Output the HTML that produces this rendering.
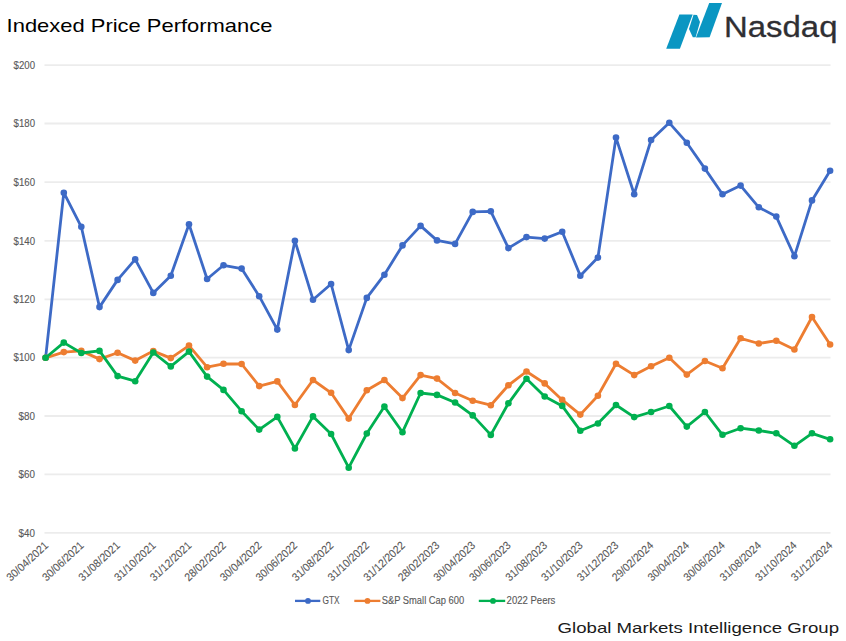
<!DOCTYPE html>
<html><head><meta charset="utf-8"><style>
html,body{margin:0;padding:0;background:#fff;}
body{width:846px;height:641px;overflow:hidden;position:relative;font-family:"Liberation Sans",sans-serif;}
svg{position:absolute;left:0;top:0;}
</style></head><body>
<svg width="846" height="641" viewBox="0 0 846 641">
<rect width="846" height="641" fill="#fff"/>
<text x="6.6" y="32.1" font-size="19" fill="#000" textLength="265.8" lengthAdjust="spacingAndGlyphs">Indexed Price Performance</text>
<g fill="#0A96C2">
<polygon points="666.2,48.8 679.4,14.5 692.7,14.5 679.9,48.8"/>
<polygon points="693.5,14.8 697,15 700,22 695.6,37.3 692.8,37.3 689,29"/>
<polygon points="709.2,2.9 722,2.9 709.6,37.2 696,37.6"/>
</g>
<text x="724" y="37" font-size="29.6" fill="#2F2F33" stroke="#2F2F33" stroke-width="0.3" textLength="113.5" lengthAdjust="spacingAndGlyphs">Nasdaq</text>
<line x1="44.5" y1="65.1" x2="830.5" y2="65.1" stroke="#ECECEC" stroke-width="1.8"/>
<line x1="44.5" y1="123.5" x2="830.5" y2="123.5" stroke="#ECECEC" stroke-width="1.8"/>
<line x1="44.5" y1="182.1" x2="830.5" y2="182.1" stroke="#ECECEC" stroke-width="1.8"/>
<line x1="44.5" y1="240.9" x2="830.5" y2="240.9" stroke="#ECECEC" stroke-width="1.8"/>
<line x1="44.5" y1="299.3" x2="830.5" y2="299.3" stroke="#ECECEC" stroke-width="1.8"/>
<line x1="44.5" y1="357.6" x2="830.5" y2="357.6" stroke="#ECECEC" stroke-width="1.8"/>
<line x1="44.5" y1="416.0" x2="830.5" y2="416.0" stroke="#ECECEC" stroke-width="1.8"/>
<line x1="44.5" y1="474.3" x2="830.5" y2="474.3" stroke="#ECECEC" stroke-width="1.8"/>
<line x1="44.5" y1="532.9" x2="830.5" y2="532.9" stroke="#ECECEC" stroke-width="1.8"/>

<g font-size="10.2" fill="#595959" stroke="#595959" stroke-width="0.12">
<text x="35" y="68.7" text-anchor="end" textLength="21.4" lengthAdjust="spacingAndGlyphs">$200</text>
<text x="35" y="127.1" text-anchor="end" textLength="21.4" lengthAdjust="spacingAndGlyphs">$180</text>
<text x="35" y="185.7" text-anchor="end" textLength="21.4" lengthAdjust="spacingAndGlyphs">$160</text>
<text x="35" y="244.5" text-anchor="end" textLength="21.4" lengthAdjust="spacingAndGlyphs">$140</text>
<text x="35" y="302.9" text-anchor="end" textLength="21.4" lengthAdjust="spacingAndGlyphs">$120</text>
<text x="35" y="361.2" text-anchor="end" textLength="21.4" lengthAdjust="spacingAndGlyphs">$100</text>
<text x="35" y="419.6" text-anchor="end" textLength="16.4" lengthAdjust="spacingAndGlyphs">$80</text>
<text x="35" y="477.9" text-anchor="end" textLength="16.4" lengthAdjust="spacingAndGlyphs">$60</text>
<text x="35" y="536.5" text-anchor="end" textLength="16.4" lengthAdjust="spacingAndGlyphs">$40</text>

</g>
<g font-size="11.2" fill="#595959" stroke="#595959" stroke-width="0.1">
<text transform="translate(48.9,546.3) rotate(-43)" text-anchor="end" textLength="52" lengthAdjust="spacingAndGlyphs">30/04/2021</text>
<text transform="translate(84.5,546.3) rotate(-43)" text-anchor="end" textLength="52" lengthAdjust="spacingAndGlyphs">30/06/2021</text>
<text transform="translate(120.8,546.3) rotate(-43)" text-anchor="end" textLength="52" lengthAdjust="spacingAndGlyphs">31/08/2021</text>
<text transform="translate(156.5,546.3) rotate(-43)" text-anchor="end" textLength="52" lengthAdjust="spacingAndGlyphs">31/10/2021</text>
<text transform="translate(192.2,546.3) rotate(-43)" text-anchor="end" textLength="52" lengthAdjust="spacingAndGlyphs">31/12/2021</text>
<text transform="translate(226.7,546.3) rotate(-43)" text-anchor="end" textLength="52" lengthAdjust="spacingAndGlyphs">28/02/2022</text>
<text transform="translate(262.4,546.3) rotate(-43)" text-anchor="end" textLength="52" lengthAdjust="spacingAndGlyphs">30/04/2022</text>
<text transform="translate(298.1,546.3) rotate(-43)" text-anchor="end" textLength="52" lengthAdjust="spacingAndGlyphs">30/06/2022</text>
<text transform="translate(334.3,546.3) rotate(-43)" text-anchor="end" textLength="52" lengthAdjust="spacingAndGlyphs">31/08/2022</text>
<text transform="translate(370.0,546.3) rotate(-43)" text-anchor="end" textLength="52" lengthAdjust="spacingAndGlyphs">31/10/2022</text>
<text transform="translate(405.7,546.3) rotate(-43)" text-anchor="end" textLength="52" lengthAdjust="spacingAndGlyphs">31/12/2022</text>
<text transform="translate(440.2,546.3) rotate(-43)" text-anchor="end" textLength="52" lengthAdjust="spacingAndGlyphs">28/02/2023</text>
<text transform="translate(475.9,546.3) rotate(-43)" text-anchor="end" textLength="52" lengthAdjust="spacingAndGlyphs">30/04/2023</text>
<text transform="translate(511.6,546.3) rotate(-43)" text-anchor="end" textLength="52" lengthAdjust="spacingAndGlyphs">30/06/2023</text>
<text transform="translate(547.9,546.3) rotate(-43)" text-anchor="end" textLength="52" lengthAdjust="spacingAndGlyphs">31/08/2023</text>
<text transform="translate(583.5,546.3) rotate(-43)" text-anchor="end" textLength="52" lengthAdjust="spacingAndGlyphs">31/10/2023</text>
<text transform="translate(619.2,546.3) rotate(-43)" text-anchor="end" textLength="52" lengthAdjust="spacingAndGlyphs">31/12/2023</text>
<text transform="translate(654.3,546.3) rotate(-43)" text-anchor="end" textLength="52" lengthAdjust="spacingAndGlyphs">29/02/2024</text>
<text transform="translate(690.0,546.3) rotate(-43)" text-anchor="end" textLength="52" lengthAdjust="spacingAndGlyphs">30/04/2024</text>
<text transform="translate(725.7,546.3) rotate(-43)" text-anchor="end" textLength="52" lengthAdjust="spacingAndGlyphs">30/06/2024</text>
<text transform="translate(762.0,546.3) rotate(-43)" text-anchor="end" textLength="52" lengthAdjust="spacingAndGlyphs">31/08/2024</text>
<text transform="translate(797.6,546.3) rotate(-43)" text-anchor="end" textLength="52" lengthAdjust="spacingAndGlyphs">31/10/2024</text>
<text transform="translate(833.3,546.3) rotate(-43)" text-anchor="end" textLength="52" lengthAdjust="spacingAndGlyphs">31/12/2024</text>

</g>
<polyline points="45.6,357.8 63.8,192.7 81.3,226.8 99.5,307.1 117.6,279.9 135.2,259.4 153.3,292.9 170.8,275.7 189.0,224.2 207.1,279.0 223.5,265.3 241.6,268.6 259.2,296.2 277.3,329.6 294.9,240.7 313.0,299.7 331.1,284.0 348.7,350.1 366.8,297.9 384.4,274.7 402.5,245.4 420.6,225.9 437.0,240.4 455.1,243.9 472.7,211.9 490.8,211.3 508.4,248.1 526.5,237.1 544.7,238.6 562.2,231.7 580.3,275.7 597.9,257.6 616.0,137.6 634.2,194.2 651.1,140.0 669.3,122.8 686.8,142.7 704.9,168.6 722.5,194.2 740.6,185.6 758.8,207.3 776.3,216.6 794.4,256.3 812.0,200.4 830.1,170.8" fill="none" stroke="#3D6AC6" stroke-width="2.8" stroke-linejoin="round" stroke-linecap="round"/>
<g fill="#3D6AC6"><circle cx="45.6" cy="357.8" r="3.3"/><circle cx="63.8" cy="192.7" r="3.3"/><circle cx="81.3" cy="226.8" r="3.3"/><circle cx="99.5" cy="307.1" r="3.3"/><circle cx="117.6" cy="279.9" r="3.3"/><circle cx="135.2" cy="259.4" r="3.3"/><circle cx="153.3" cy="292.9" r="3.3"/><circle cx="170.8" cy="275.7" r="3.3"/><circle cx="189.0" cy="224.2" r="3.3"/><circle cx="207.1" cy="279.0" r="3.3"/><circle cx="223.5" cy="265.3" r="3.3"/><circle cx="241.6" cy="268.6" r="3.3"/><circle cx="259.2" cy="296.2" r="3.3"/><circle cx="277.3" cy="329.6" r="3.3"/><circle cx="294.9" cy="240.7" r="3.3"/><circle cx="313.0" cy="299.7" r="3.3"/><circle cx="331.1" cy="284.0" r="3.3"/><circle cx="348.7" cy="350.1" r="3.3"/><circle cx="366.8" cy="297.9" r="3.3"/><circle cx="384.4" cy="274.7" r="3.3"/><circle cx="402.5" cy="245.4" r="3.3"/><circle cx="420.6" cy="225.9" r="3.3"/><circle cx="437.0" cy="240.4" r="3.3"/><circle cx="455.1" cy="243.9" r="3.3"/><circle cx="472.7" cy="211.9" r="3.3"/><circle cx="490.8" cy="211.3" r="3.3"/><circle cx="508.4" cy="248.1" r="3.3"/><circle cx="526.5" cy="237.1" r="3.3"/><circle cx="544.7" cy="238.6" r="3.3"/><circle cx="562.2" cy="231.7" r="3.3"/><circle cx="580.3" cy="275.7" r="3.3"/><circle cx="597.9" cy="257.6" r="3.3"/><circle cx="616.0" cy="137.6" r="3.3"/><circle cx="634.2" cy="194.2" r="3.3"/><circle cx="651.1" cy="140.0" r="3.3"/><circle cx="669.3" cy="122.8" r="3.3"/><circle cx="686.8" cy="142.7" r="3.3"/><circle cx="704.9" cy="168.6" r="3.3"/><circle cx="722.5" cy="194.2" r="3.3"/><circle cx="740.6" cy="185.6" r="3.3"/><circle cx="758.8" cy="207.3" r="3.3"/><circle cx="776.3" cy="216.6" r="3.3"/><circle cx="794.4" cy="256.3" r="3.3"/><circle cx="812.0" cy="200.4" r="3.3"/><circle cx="830.1" cy="170.8" r="3.3"/></g>

<polyline points="45.6,357.8 63.8,352.1 81.3,350.9 99.5,359.1 117.6,352.8 135.2,360.6 153.3,351.1 170.8,358.1 189.0,345.6 207.1,367.2 223.5,363.8 241.6,364.0 259.2,386.1 277.3,381.4 294.9,405.0 313.0,380.0 331.1,392.8 348.7,418.6 366.8,390.2 384.4,380.0 402.5,398.1 420.6,375.1 437.0,378.6 455.1,393.0 472.7,400.7 490.8,405.2 508.4,385.3 526.5,371.5 544.7,383.4 562.2,399.9 580.3,414.6 597.9,395.7 616.0,363.8 634.2,375.1 651.1,366.3 669.3,357.7 686.8,374.6 704.9,361.0 722.5,368.3 740.6,338.3 758.8,343.5 776.3,340.7 794.4,349.5 812.0,317.0 830.1,344.5" fill="none" stroke="#ED7D31" stroke-width="2.8" stroke-linejoin="round" stroke-linecap="round"/>
<g fill="#ED7D31"><circle cx="45.6" cy="357.8" r="3.3"/><circle cx="63.8" cy="352.1" r="3.3"/><circle cx="81.3" cy="350.9" r="3.3"/><circle cx="99.5" cy="359.1" r="3.3"/><circle cx="117.6" cy="352.8" r="3.3"/><circle cx="135.2" cy="360.6" r="3.3"/><circle cx="153.3" cy="351.1" r="3.3"/><circle cx="170.8" cy="358.1" r="3.3"/><circle cx="189.0" cy="345.6" r="3.3"/><circle cx="207.1" cy="367.2" r="3.3"/><circle cx="223.5" cy="363.8" r="3.3"/><circle cx="241.6" cy="364.0" r="3.3"/><circle cx="259.2" cy="386.1" r="3.3"/><circle cx="277.3" cy="381.4" r="3.3"/><circle cx="294.9" cy="405.0" r="3.3"/><circle cx="313.0" cy="380.0" r="3.3"/><circle cx="331.1" cy="392.8" r="3.3"/><circle cx="348.7" cy="418.6" r="3.3"/><circle cx="366.8" cy="390.2" r="3.3"/><circle cx="384.4" cy="380.0" r="3.3"/><circle cx="402.5" cy="398.1" r="3.3"/><circle cx="420.6" cy="375.1" r="3.3"/><circle cx="437.0" cy="378.6" r="3.3"/><circle cx="455.1" cy="393.0" r="3.3"/><circle cx="472.7" cy="400.7" r="3.3"/><circle cx="490.8" cy="405.2" r="3.3"/><circle cx="508.4" cy="385.3" r="3.3"/><circle cx="526.5" cy="371.5" r="3.3"/><circle cx="544.7" cy="383.4" r="3.3"/><circle cx="562.2" cy="399.9" r="3.3"/><circle cx="580.3" cy="414.6" r="3.3"/><circle cx="597.9" cy="395.7" r="3.3"/><circle cx="616.0" cy="363.8" r="3.3"/><circle cx="634.2" cy="375.1" r="3.3"/><circle cx="651.1" cy="366.3" r="3.3"/><circle cx="669.3" cy="357.7" r="3.3"/><circle cx="686.8" cy="374.6" r="3.3"/><circle cx="704.9" cy="361.0" r="3.3"/><circle cx="722.5" cy="368.3" r="3.3"/><circle cx="740.6" cy="338.3" r="3.3"/><circle cx="758.8" cy="343.5" r="3.3"/><circle cx="776.3" cy="340.7" r="3.3"/><circle cx="794.4" cy="349.5" r="3.3"/><circle cx="812.0" cy="317.0" r="3.3"/><circle cx="830.1" cy="344.5" r="3.3"/></g>

<polyline points="45.6,357.8 63.8,342.6 81.3,353.0 99.5,350.9 117.6,376.1 135.2,381.2 153.3,352.5 170.8,366.4 189.0,351.6 207.1,376.6 223.5,389.9 241.6,411.2 259.2,429.6 277.3,416.9 294.9,448.5 313.0,416.4 331.1,434.0 348.7,467.7 366.8,433.5 384.4,406.6 402.5,432.2 420.6,393.0 437.0,394.9 455.1,402.5 472.7,415.4 490.8,434.9 508.4,403.3 526.5,378.7 544.7,396.5 562.2,405.9 580.3,430.7 597.9,423.5 616.0,405.0 634.2,417.1 651.1,412.0 669.3,406.0 686.8,426.6 704.9,412.0 722.5,434.8 740.6,428.2 758.8,430.5 776.3,433.3 794.4,445.8 812.0,433.3 830.1,439.3" fill="none" stroke="#00B050" stroke-width="2.8" stroke-linejoin="round" stroke-linecap="round"/>
<g fill="#00B050"><circle cx="45.6" cy="357.8" r="3.3"/><circle cx="63.8" cy="342.6" r="3.3"/><circle cx="81.3" cy="353.0" r="3.3"/><circle cx="99.5" cy="350.9" r="3.3"/><circle cx="117.6" cy="376.1" r="3.3"/><circle cx="135.2" cy="381.2" r="3.3"/><circle cx="153.3" cy="352.5" r="3.3"/><circle cx="170.8" cy="366.4" r="3.3"/><circle cx="189.0" cy="351.6" r="3.3"/><circle cx="207.1" cy="376.6" r="3.3"/><circle cx="223.5" cy="389.9" r="3.3"/><circle cx="241.6" cy="411.2" r="3.3"/><circle cx="259.2" cy="429.6" r="3.3"/><circle cx="277.3" cy="416.9" r="3.3"/><circle cx="294.9" cy="448.5" r="3.3"/><circle cx="313.0" cy="416.4" r="3.3"/><circle cx="331.1" cy="434.0" r="3.3"/><circle cx="348.7" cy="467.7" r="3.3"/><circle cx="366.8" cy="433.5" r="3.3"/><circle cx="384.4" cy="406.6" r="3.3"/><circle cx="402.5" cy="432.2" r="3.3"/><circle cx="420.6" cy="393.0" r="3.3"/><circle cx="437.0" cy="394.9" r="3.3"/><circle cx="455.1" cy="402.5" r="3.3"/><circle cx="472.7" cy="415.4" r="3.3"/><circle cx="490.8" cy="434.9" r="3.3"/><circle cx="508.4" cy="403.3" r="3.3"/><circle cx="526.5" cy="378.7" r="3.3"/><circle cx="544.7" cy="396.5" r="3.3"/><circle cx="562.2" cy="405.9" r="3.3"/><circle cx="580.3" cy="430.7" r="3.3"/><circle cx="597.9" cy="423.5" r="3.3"/><circle cx="616.0" cy="405.0" r="3.3"/><circle cx="634.2" cy="417.1" r="3.3"/><circle cx="651.1" cy="412.0" r="3.3"/><circle cx="669.3" cy="406.0" r="3.3"/><circle cx="686.8" cy="426.6" r="3.3"/><circle cx="704.9" cy="412.0" r="3.3"/><circle cx="722.5" cy="434.8" r="3.3"/><circle cx="740.6" cy="428.2" r="3.3"/><circle cx="758.8" cy="430.5" r="3.3"/><circle cx="776.3" cy="433.3" r="3.3"/><circle cx="794.4" cy="445.8" r="3.3"/><circle cx="812.0" cy="433.3" r="3.3"/><circle cx="830.1" cy="439.3" r="3.3"/></g>

<g font-size="10" fill="#595959">
<line x1="295" y1="600.9" x2="320.3" y2="600.9" stroke="#3D6AC6" stroke-width="2.3"/><circle cx="308" cy="600.9" r="2.9" fill="#3D6AC6"/>
<text x="322.5" y="603.5" stroke="#595959" stroke-width="0.12" textLength="17.1" lengthAdjust="spacingAndGlyphs">GTX</text>
<line x1="354.3" y1="600.9" x2="380.4" y2="600.9" stroke="#ED7D31" stroke-width="2.3"/><circle cx="367.5" cy="600.9" r="2.9" fill="#ED7D31"/>
<text x="381.7" y="603.5" stroke="#595959" stroke-width="0.12" textLength="82.5" lengthAdjust="spacingAndGlyphs">S&amp;P Small Cap 600</text>
<line x1="478.8" y1="600.9" x2="505.2" y2="600.9" stroke="#00B050" stroke-width="2.3"/><circle cx="493" cy="600.9" r="2.9" fill="#00B050"/>
<text x="506.6" y="603.5" stroke="#595959" stroke-width="0.12" textLength="48.8" lengthAdjust="spacingAndGlyphs">2022 Peers</text>
</g>
<text x="557.6" y="632.5" font-size="14.8" fill="#1A1A1A" textLength="281.5" lengthAdjust="spacingAndGlyphs">Global Markets Intelligence Group</text>
</svg>
</body></html>
